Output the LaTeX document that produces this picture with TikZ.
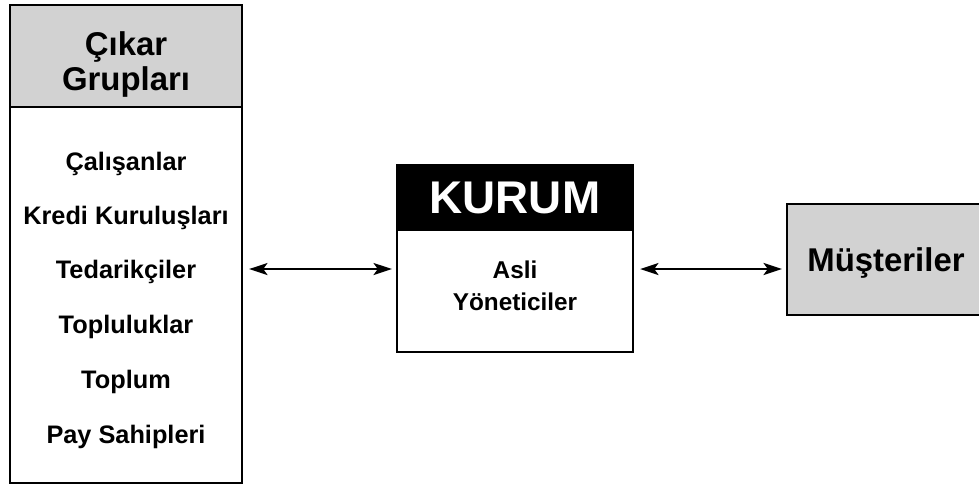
\documentclass[tikz,border=0pt]{standalone}
\usepackage{fontspec}
\setmainfont{Liberation Sans}
\usetikzlibrary{arrows.meta,positioning}

\begin{document}
\begin{tikzpicture}[x=0.025cm, y=-0.025cm, >={Stealth[length=13pt, width=8.5pt, inset=3pt]}, box/.style={draw, line width=1.6pt, inner sep=0pt}, head/.style={box, fill=gray!35}, item/.style={anchor=base, font=\fontsize{18}{20}\selectfont\bfseries}, title/.style={anchor=base, font=\fontsize{23.4}{25}\selectfont\bfseries}, link/.style={<->, line width=1.8pt, shorten <=0.15cm, shorten >=0.1cm}]
\useasboundingbox (0,0) rectangle (979,488);
% Cikar gruplari
\node[box, minimum width=5.8cm, minimum height=11.95cm] (grp) at (126,244) {};
\node[head, minimum width=5.8cm, minimum height=2.55cm] (grphead) at (126,56) {};
\node[title] (grpt1) at (126,55) {Çıkar};
\node[title] (grpt2) at (126,90) {Grupları};
\node[item] (i1) at (126,170) {Çalışanlar};
\node[item] (i2) at (126,224) {Kredi Kuruluşları};
\node[item] (i3) at (126,278) {Tedarikçiler};
\node[item] (i4) at (126,333) {Topluluklar};
\node[item] (i5) at (126,388) {Toplum};
\node[item] (i6) at (126,443) {Pay Sahipleri};
% Kurum
\node[box, fill=white, minimum width=5.9cm, minimum height=4.675cm] (kurum) at (515,258.5) {};
\node[box, fill=black, minimum width=5.9cm, minimum height=1.625cm] (kurumhead) at (515,197.5) {};
\node[anchor=base, text=white, font=\fontsize{32.6}{34}\selectfont\bfseries] (kurumt) at (515,213) {KURUM};
\node[item, font=\fontsize{17.3}{19}\selectfont\bfseries] (asli1) at (515,278) {Asli};
\node[item, font=\fontsize{17.3}{19}\selectfont\bfseries] (asli2) at (515,310) {Yöneticiler};
% Musteriler
\node[head, minimum width=4.95cm, minimum height=2.775cm] (mus) at (886,259.5) {};
\node[title] (must) at (886,271.7) {Müşteriler};
% oklar
\coordinate (lvl) at (0,269);
\draw[link] (grp.east |- lvl) -- (kurum.west |- lvl);
\draw[link] (kurum.east |- lvl) -- (mus.west |- lvl);
\end{tikzpicture}
\end{document}
